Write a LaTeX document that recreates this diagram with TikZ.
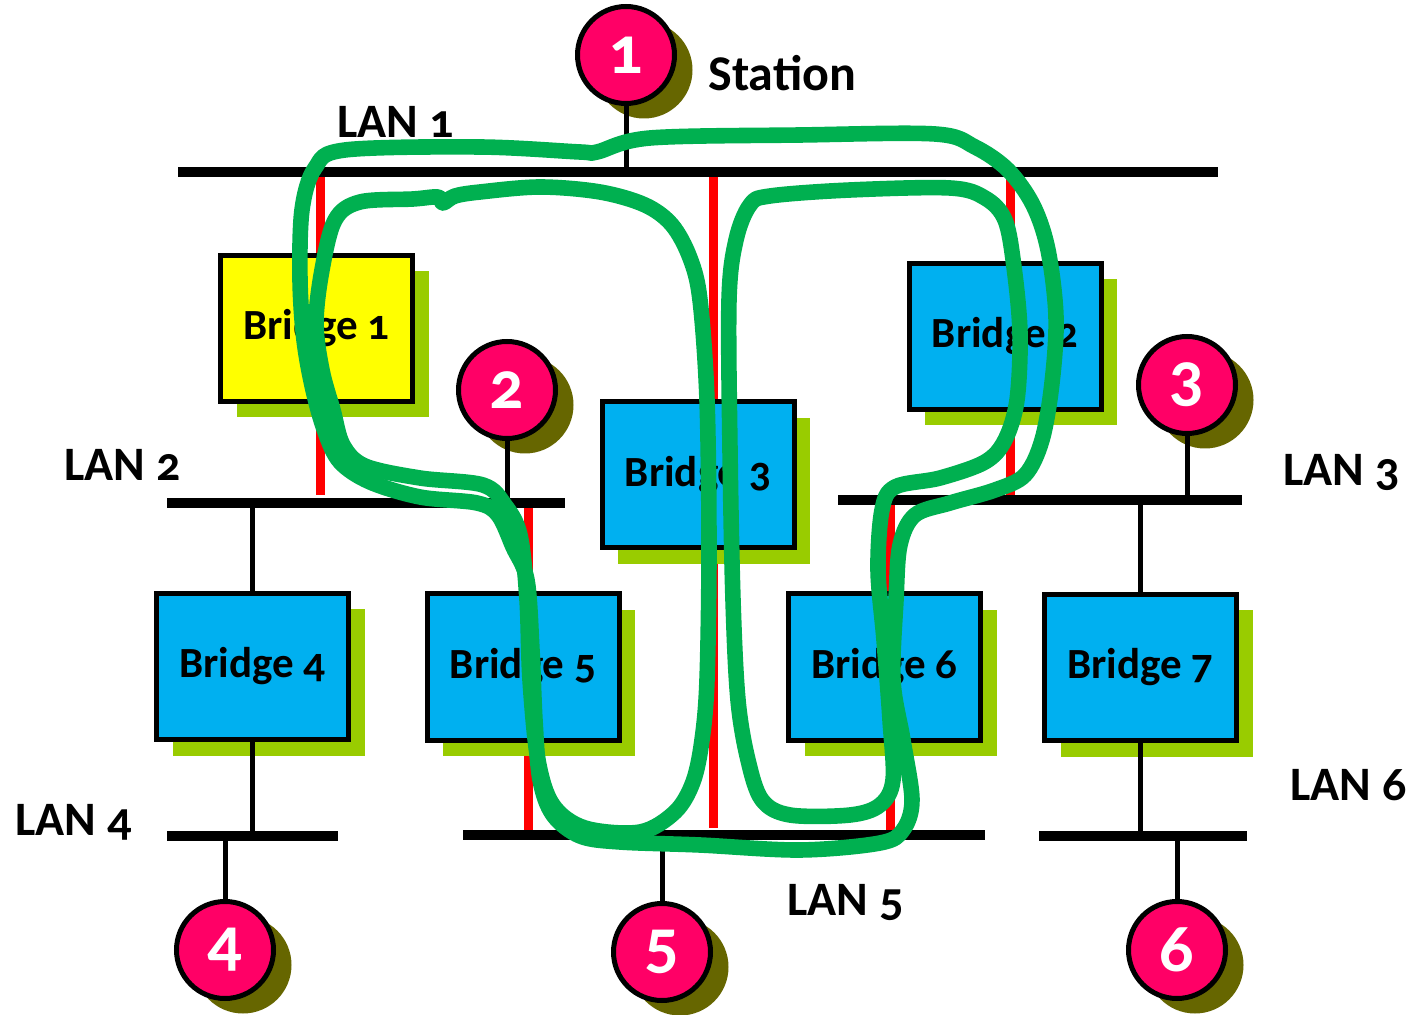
\documentclass[tikz,border=0pt]{standalone}
\usepackage{fontspec}
\setmainfont{Carlito}[Numbers=OldStyle]
\usetikzlibrary{shadows}
\definecolor{pinkc}{HTML}{FF0066}
\definecolor{oliveshadow}{HTML}{666600}
\definecolor{boxblue}{HTML}{00B0F0}
\definecolor{boxyellow}{HTML}{FFFF00}
\definecolor{shgreen}{HTML}{99CC00}
\definecolor{penred}{HTML}{FF0000}
\definecolor{pengreen}{HTML}{00B050}
\begin{document}
\begin{tikzpicture}[x=0.5pt,y=-0.5pt,
 bridgebox/.style={draw=black, line width=2.5pt, fill=boxblue, minimum width=96pt, minimum height=73pt, inner sep=0pt, font=\bfseries\fontsize{21.5}{24}\selectfont, general shadow={fill=shgreen, shadow xshift=8pt, shadow yshift=-8pt}},
 station/.style={circle, draw=black, line width=2.5pt, fill=pinkc, minimum size=48.5pt, inner sep=0pt, text=white, font=\bfseries\fontsize{34}{40}\selectfont, general shadow={fill=oliveshadow, shadow xshift=9pt, shadow yshift=-7.5pt}},
 lanbar/.style={line width=5pt},
 stem/.style={line width=2.5pt},
 redlink/.style={penred, line width=4.5pt},
 penstroke/.style={pengreen, line width=7.8pt, line cap=round, line join=round},
 lanlabel/.style={anchor=base west, inner sep=0pt, font=\bfseries\fontsize{24}{28}\selectfont}
]
\fill[white] (0,0) rectangle (1414,1015);
\useasboundingbox (0,0) rectangle (1414,1015);

% LAN bar end points
\coordinate (lan1w) at (178,172);  \coordinate (lan1e) at (1218,172);
\coordinate (lan2w) at (167,503);  \coordinate (lan2e) at (565,503);
\coordinate (lan3w) at (838,500);  \coordinate (lan3e) at (1242,500);
\coordinate (lan4w) at (167,836);  \coordinate (lan4e) at (338,836);
\coordinate (lan5w) at (463,835);  \coordinate (lan5e) at (985,835);
\coordinate (lan6w) at (1039,836); \coordinate (lan6e) at (1247,836);

% red links (behind everything)
\coordinate (r1t) at (320,172); \coordinate (r1b) at (320,495);
\coordinate (r2t) at (713,172); \coordinate (r2b) at (713,828);
\coordinate (r3t) at (1010,172); \coordinate (r3b) at (1010,500);
\coordinate (r4t) at (528,503); \coordinate (r4b) at (528,835);
\coordinate (r5t) at (890,500); \coordinate (r5b) at (890,835);
\draw[redlink] (r1t) -- (r1b);
\draw[redlink] (r2t) -- (r2b);
\draw[redlink] (r3t) -- (r3b);
\draw[redlink] (r4t) -- (r4b);
\draw[redlink] (r5t) -- (r5b);

% LAN bars
\draw[lanbar] (lan1w) -- (lan1e);
\draw[lanbar] (lan2w) -- (lan2e);
\draw[lanbar] (lan3w) -- (lan3e);
\draw[lanbar] (lan4w) -- (lan4e);
\draw[lanbar] (lan5w) -- (lan5e);
\draw[lanbar] (lan6w) -- (lan6e);

% stations
\node[station] (s1) at (626,55) {1};
\node[station] (s2) at (507,390) {2};
\node[station] (s3) at (1187,385) {3};
\node[station] (s4) at (225,950) {4};
\node[station] (s5) at (662,952) {5};
\node[station] (s6) at (1177,950) {6};

% bridges
\node[bridgebox, fill=boxyellow] (b1) at (316.5,328.5) {Bridge 1};
\node[bridgebox] (b2) at (1005,336.5) {Bridge 2};
\node[bridgebox] (b3) at (698,475) {Bridge 3};
\node[bridgebox] (b4) at (252.5,666.5) {Bridge 4};
\node[bridgebox] (b5) at (523,667) {Bridge 5};
\node[bridgebox] (b6) at (884.5,667) {Bridge 6};
\node[bridgebox] (b7) at (1140.5,667.5) {Bridge 7};

% stems
\draw[stem] (s1.south) -- (s1.south |- lan1w);
\draw[stem] (s2.south) -- (s2.south |- lan2w);
\draw[stem] (s3.south) -- (s3.south |- lan3w);
\draw[stem] (s4.north) -- (s4.north |- lan4w);
\draw[stem] (s5.north) -- (s5.north |- lan5w);
\draw[stem] (s6.north) -- (s6.north |- lan6w);
\draw[stem] (b4.north) -- (b4.north |- lan2w);
\draw[stem] (b4.south) -- (b4.south |- lan4w);
\draw[stem] (b7.north) -- (b7.north |- lan3w);
\draw[stem] (b7.south) -- (b7.south |- lan6w);

% labels
\node[lanlabel, font=\bfseries\fontsize{25}{30}\selectfont] (station) at (708,91) {Station};
\node[lanlabel] (l1) at (337,138) {LAN 1};
\node[lanlabel] (l2) at (64,481) {LAN 2};
\node[lanlabel] (l3) at (1283,486) {LAN 3};
\node[lanlabel] (l4) at (15,835) {LAN 4};
\node[lanlabel] (l5) at (787,915) {LAN 5};
\node[lanlabel] (l6) at (1290,800) {LAN 6};

% green hand-drawn loops
\draw[penstroke] plot[smooth cycle, tension=0.55] coordinates {
(597,152) (650,138) (800,135) (935,134) (975,147) (1008,170) (1033,205) (1048,250) (1056,317) (1052,383) (1042,440) (1025,475) (995,490) (950,503) (915,515) (900,545) (896,600) (893,680) (903,740) (912,800) (903,830) (880,843) (800,850) (700,845) (620,842) (580,836) (553,815) (540,780) (535,720) (532,650) (527,580) (513,547) (498,515) (477,503) (420,497) (370,482) (340,462) (325,432) (313,390) (304,340) (300,280) (302,210) (315,168) (345,150) (480,147) (580,152)};
\draw[penstroke] plot[smooth cycle, tension=0.55] coordinates {
(480,192) (455,196) (443,203) (438,197) (413,199) (360,202) (335,220) (322,270) (316,323) (322,370) (333,410) (343,445) (365,466) (420,478) (483,485) (505,505) (520,535) (527,600) (530,680) (538,760) (553,805) (585,828) (640,832) (675,812) (693,782) (702,740) (707,680) (709,550) (707,400) (700,300) (690,258) (672,225) (645,205) (600,192) (540,187)};
\draw[penstroke] plot[smooth cycle, tension=0.55] coordinates {
(770,196) (850,190) (950,188) (985,198) (1005,220) (1014,267) (1020,333) (1017,400) (1005,440) (985,462) (940,478) (895,487) (882,510) (878,570) (884,640) (890,720) (893,780) (880,805) (850,815) (790,815) (762,800) (748,760) (738,700) (733,600) (730,450) (729,300) (736,240) (750,205)};
\end{tikzpicture}
\end{document}
